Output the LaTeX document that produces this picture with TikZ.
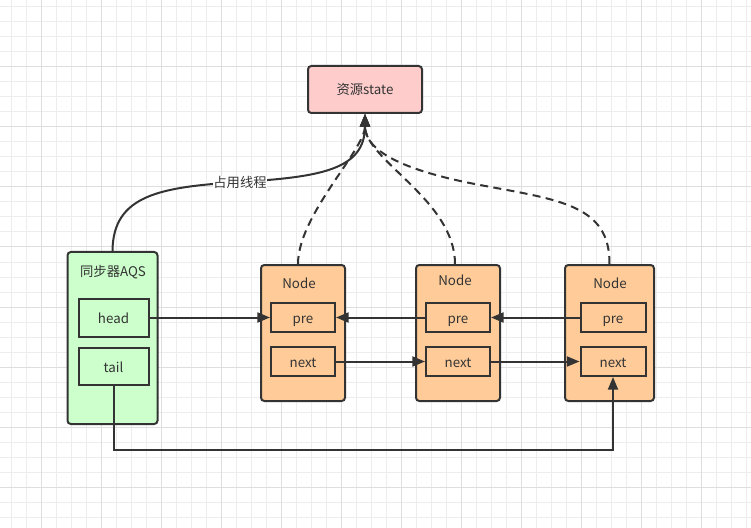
\documentclass[tikz,border=0pt]{standalone}
\usepackage{fontspec}
\setmainfont{Noto Sans CJK SC}
\usetikzlibrary{arrows.meta}
\definecolor{ink}{HTML}{333333}
\definecolor{gridminor}{HTML}{EDEDED}
\definecolor{gridmajor}{HTML}{DEDEDE}
\definecolor{statefill}{HTML}{FFCCCC}
\definecolor{aqsfill}{HTML}{CCFFCC}
\definecolor{nodefill}{HTML}{FFCC99}
\tikzset{
  txt/.style={font=\fontsize{10pt}{12pt}\selectfont, text=ink},
  outerbox/.style={draw=ink, line width=1.5pt, rounded corners=2.5pt, inner sep=0pt},
  fieldbox/.style={draw=ink, line width=1.5pt, inner sep=0pt, txt, text height=8.6pt, text depth=0pt},
  lbl/.style={txt, inner sep=0pt},
  arr/.style={draw=ink, line width=1.5pt, -{Triangle[length=9.5pt,width=7.5pt]}},
  dashedge/.style={arr, dash pattern=on 6pt off 4pt},
}
\begin{document}
\begin{tikzpicture}[x=0.75pt,y=-0.75pt]
\useasboundingbox (0,0) rectangle (751,528);
\fill[white] (0,0) rectangle (751,528);
\foreach \x in {11,26,...,751} \draw[gridminor, line width=0.75pt] (\x,0) -- (\x,528);
\foreach \y in {7,22,...,528} \draw[gridminor, line width=0.75pt] (0,\y) -- (751,\y);
\foreach \x in {41,101,...,751} \draw[gridmajor, line width=0.75pt] (\x,0) -- (\x,528);
\foreach \y in {67,127,...,528} \draw[gridmajor, line width=0.75pt] (0,\y) -- (751,\y);

% state
\node[outerbox, fill=statefill, minimum width=85.5pt, minimum height=35.25pt, txt] (state) at (365,89.5) {资源state};

% AQS
\node[outerbox, fill=aqsfill, minimum width=67.5pt, minimum height=129pt] (aqs) at (112.5,338) {};
\node[lbl] (aqslbl) at (113,272) {同步器AQS};
\node[fieldbox, minimum width=52.5pt, minimum height=28.5pt] (head) at (113.5,317.5) {head};
\node[fieldbox, minimum width=52.5pt, minimum height=27.75pt] (tail) at (113.5,366.5) {tail};

% Nodes
\node[outerbox, fill=nodefill, minimum width=63pt, minimum height=102pt] (n1) at (303,333) {};
\node[outerbox, fill=nodefill, minimum width=63pt, minimum height=102pt] (n2) at (458,333) {};
\node[outerbox, fill=nodefill, minimum width=66.75pt, minimum height=102pt] (n3) at (609.5,333) {};
\node[lbl] (n1lbl) at (299,283.5) {Node};
\node[lbl] (n2lbl) at (455,280.5) {Node};
\node[lbl] (n3lbl) at (610,283.5) {Node};

\node[fieldbox, minimum width=48pt, minimum height=21.75pt] (pre1) at (303,317.5) {pre};
\node[fieldbox, minimum width=48pt, minimum height=21.75pt] (next1) at (303,361.5) {next};
\node[fieldbox, minimum width=48pt, minimum height=21.75pt] (pre2) at (458,317.5) {pre};
\node[fieldbox, minimum width=48pt, minimum height=21.75pt] (next2) at (458,361.5) {next};
\node[fieldbox, minimum width=48.75pt, minimum height=21.75pt] (pre3) at (613,317.5) {pre};
\node[fieldbox, minimum width=48.75pt, minimum height=21.75pt] (next3) at (613,361.5) {next};

% horizontal links
\draw[arr] (head.east) -- (pre1.west);
\draw[arr] (pre2.west) -- (pre1.east);
\draw[arr] (pre3.west) -- (pre2.east);
\draw[arr] (next1.east) -- (next2.west);
\draw[arr] (next2.east) -- (next3.west);

% tail to next3
\coordinate (bot) at (113,450);
\draw[arr] (tail.south) -- (tail.south |- bot) -| (next3.south);

% solid curve to state
\draw[arr] (aqs.north) .. controls (113,195) and (160,187) .. (240,182)
  node[fill=white, inner sep=1pt, lbl] (occ) {占用线程}
  .. controls (320,177) and (365,170) .. (state.south);

% dashed curves
\draw[dashedge] ([xshift=-3.75pt]n1.north) .. controls (298,215) and (365,150) .. (state.south);
\draw[dashedge] ([xshift=-2.25pt]n2.north) .. controls (455,200) and (365,160) .. (state.south);
\draw[dashedge] (n3.north) .. controls (610,205) and (560,200) .. (480,185)
  .. controls (400,170) and (365,150) .. (state.south);
\end{tikzpicture}
\end{document}
